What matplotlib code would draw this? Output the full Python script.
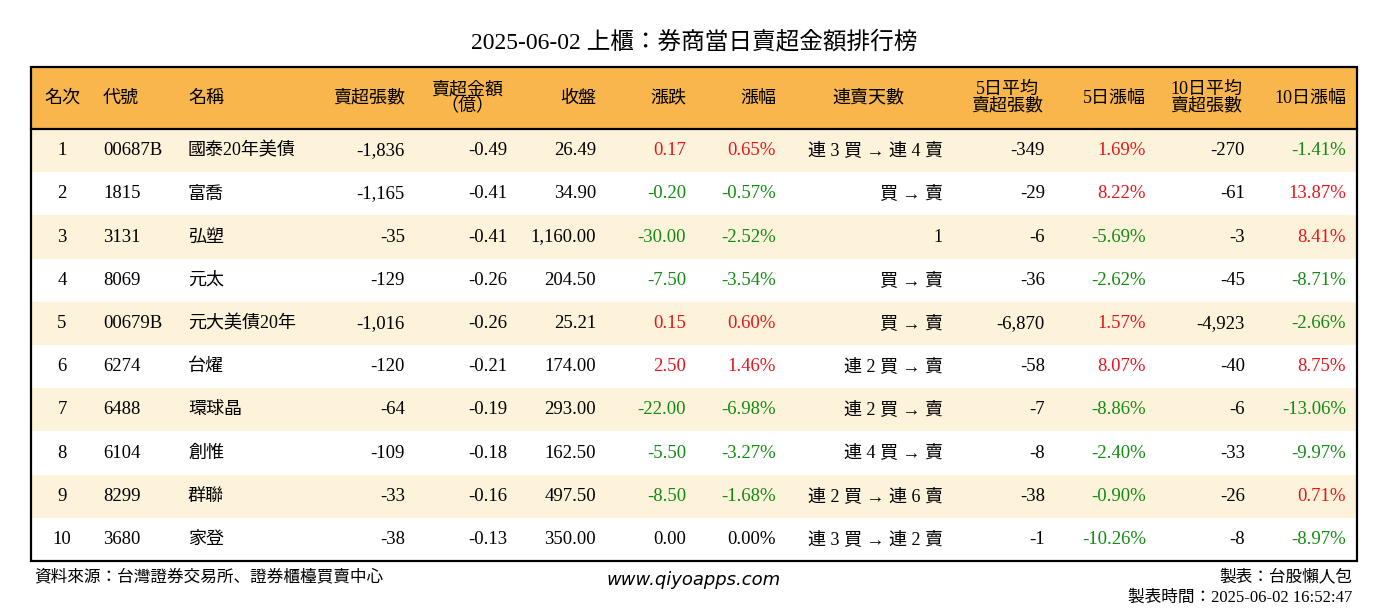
import matplotlib
matplotlib.use("Agg")
import matplotlib.pyplot as plt
from matplotlib.patches import Rectangle

plt.rcParams['font.family'] = ['Liberation Serif', 'Noto Sans CJK JP']

title = "2025-06-02 上櫃：券商當日賣超金額排行榜"
headers = ["名次", "代號", "名稱", "賣超張數", "賣超金額\n（億）", "收盤", "漲跌", "漲幅",
           "連賣天數", "5日平均\n賣超張數", "5日漲幅", "10日平均\n賣超張數", "10日漲幅"]
rank = ["1", "2", "3", "4", "5", "6", "7", "8", "9", "10"]
code = ["00687B", "1815", "3131", "8069", "00679B", "6274", "6488", "6104", "8299", "3680"]
name = ["國泰20年美債", "富喬", "弘塑", "元太", "元大美債20年", "台燿", "環球晶", "創惟", "群聯", "家登"]
sell_vol = ["-1,836", "-1,165", "-35", "-129", "-1,016", "-120", "-64", "-109", "-33", "-38"]
sell_amt = ["-0.49", "-0.41", "-0.41", "-0.26", "-0.26", "-0.21", "-0.19", "-0.18", "-0.16", "-0.13"]
close = ["26.49", "34.90", "1,160.00", "204.50", "25.21", "174.00", "293.00", "162.50", "497.50", "350.00"]
change = ["0.17", "-0.20", "-30.00", "-7.50", "0.15", "2.50", "-22.00", "-5.50", "-8.50", "0.00"]
pct = ["0.65%", "-0.57%", "-2.52%", "-3.54%", "0.60%", "1.46%", "-6.98%", "-3.27%", "-1.68%", "0.00%"]
days = ["連 3 買 → 連 4 賣", "買 → 賣", "1", "買 → 賣", "買 → 賣", "連 2 買 → 賣", "連 2 買 → 賣",
        "連 4 買 → 賣", "連 2 買 → 連 6 賣", "連 3 買 → 連 2 賣"]
avg5 = ["-349", "-29", "-6", "-36", "-6,870", "-58", "-7", "-8", "-38", "-1"]
pct5 = ["1.69%", "8.22%", "-5.69%", "-2.62%", "1.57%", "8.07%", "-8.86%", "-2.40%", "-0.90%", "-10.26%"]
avg10 = ["-270", "-61", "-3", "-45", "-4,923", "-40", "-6", "-33", "-26", "-8"]
pct10 = ["-1.41%", "13.87%", "8.41%", "-8.71%", "-2.66%", "8.75%", "-13.06%", "-9.97%", "0.71%", "-8.97%"]
source = "資料來源：台灣證券交易所、證券櫃檯買賣中心"
site = "www.qiyoapps.com"
maker = "製表：台股懶人包"
maketime = "製表時間：2025-06-02 16:52:47"

W, H = 1388, 612
fig = plt.figure(figsize=(W/100, H/100), dpi=100)
ax = fig.add_axes([0, 0, 1, 1])
ax.set_xlim(0, W); ax.set_ylim(H, 0); ax.axis('off')

RED, GREEN = "#E8141C", "#128A12"
L, R, T, HB = 31, 1357, 67, 129
rh = 43.2

ax.text(W/2, 42, title, ha='center', va='center', fontsize=17)
ax.add_patch(Rectangle((L, T), R-L, HB-T, fc="#F8B64C", ec='none'))
for i in range(10):
    if i % 2 == 0:
        ax.add_patch(Rectangle((L, HB+i*rh), R-L, rh, fc="#FDF2DA", ec='none'))
ax.add_patch(Rectangle((L, T), R-L, HB+10*rh-T, fc='none', ec='black', lw=1.6))
ax.plot([L, R], [HB, HB], color='black', lw=1.6)

hdr_pos = [(62, 'center'), (103, 'left'), (188, 'left'), (405, 'right'), (467, 'center'),
           (596, 'right'), (686, 'right'), (776, 'right'), (868, 'center'), (1007, 'center'),
           (1146, 'right'), (1206, 'center'), (1346, 'right')]
body_pos = [(62, 'center'), (103, 'left'), (188, 'left'), (405, 'right'), (507, 'right'),
            (596, 'right'), (686, 'right'), (776, 'right'), (943, 'right'), (1045, 'right'),
            (1146, 'right'), (1245, 'right'), (1346, 'right')]
for h, (x, a) in zip(headers, hdr_pos):
    ax.text(x, (T+HB)/2, h, ha=a, va='center', fontsize=13, linespacing=0.95)

def col(v):
    if v.startswith('-'):
        return GREEN
    if v.replace('%', '') == '0.00':
        return 'black'
    return RED

cols = [rank, code, name, sell_vol, sell_amt, close, change, pct, days, avg5, pct5, avg10, pct10]
colored = {6, 7, 10, 12}
for i in range(10):
    y = HB + (i+0.5)*rh
    for j, (c, (x, a)) in enumerate(zip(cols, body_pos)):
        v = c[i]
        color = col(v) if j in colored else 'black'
        ax.text(x, y, v, ha=a, va='center', fontsize=13.5 if j not in (2, 8) else 13, color=color)

ax.text(34, 577, source, ha='left', va='center', fontsize=12)
ax.text(694, 580, site, ha='center', va='center', fontsize=13, style='italic', family='DejaVu Sans')
ax.text(1352, 577, maker, ha='right', va='center', fontsize=12)
ax.text(1352, 598, maketime, ha='right', va='center', fontsize=12)

fig.savefig("out.png", dpi=100)
